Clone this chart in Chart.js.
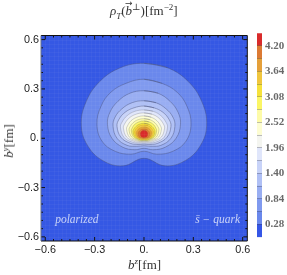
<!DOCTYPE html>
<html><head><meta charset="utf-8">
<style>html,body{margin:0;padding:0;background:#fff}
#main{position:absolute;left:0;top:0}#bar{position:absolute;left:250px;top:0}
canvas{filter:blur(.35px)}
.t{position:absolute;font:13px/16px "Liberation Serif","DejaVu Serif";color:#333;white-space:nowrap;filter:blur(.25px)}
.t sup,.t sub{font-size:9px;line-height:0}
.arrow{position:relative;display:inline-block}
.arrow u{position:absolute;left:-.5px;top:-6px;text-decoration:none;font:9px/12px "DejaVu Sans"}
</style>
<script src="https://cdn.jsdelivr.net/npm/chart.js@4"></script></head>
<body><canvas id="main" width="287" height="275"></canvas><canvas id="bar" width="37" height="275"></canvas>
<div class="t" style="left:110px;top:3px"><i>ρ</i><sub><i>T</i></sub>(<span class="arrow"><i>b</i><u>→</u></span><sup>⊥</sup>)[fm<sup>−2</sup>]</div>
<div class="t" style="left:128px;top:257px"><i>b</i><sup><i>z</i></sup>[fm]</div>
<div class="t" style="left:9px;top:141px;transform:translate(-50%,-50%) rotate(-90deg)"><i>b</i><sup><i>y</i></sup>[fm]</div>
<script>
const levels=[0,0.28,0.56,0.84,1.12,1.40,1.68,1.96,2.24,2.52,2.80,3.08,3.36,3.64,3.92,4.20,4.48];
const bandColors=['#3556e6','#6a88ec','#809aef','#99aef2','#b0c0f5','#c8d3f8','#e0e6fb','#f4f5f0','#fdfdd2','#fdfba8','#fbf665','#f6e23c','#f0c63e','#e5a03a','#dc7a34','#d92b2b'];
const colorbarTicks=[0.28,0.84,1.40,1.96,2.52,3.08,3.64,4.20];
const axisTicks=[-0.6,-0.3,0,0.3,0.6];
const tickNames=['\u22120.6','\u22120.3','0.','0.3','0.6'];
// right half of each iso-density contour, [b^z, b^y] in fm, top of curve to centre notch
const c028=[[0,.456],[.143,.429],[.269,.345],[.353,.219],[.381,.079],[.343,-.044],[.252,-.135],[.128,-.168],[0,-.122]];
const c056=[[0,.359],[.109,.334],[.201,.280],[.261,.195],[.286,.085],[.255,-.018],[.176,-.079],[.079,-.097],[0,-.079]];
const c084=[[0,.289],[.085,.274],[.158,.225],[.207,.158],[.222,.085],[.195,0],[.128,-.055],[.055,-.070],[0,-.061]];
const c112=[[0,.228],[.073,.216],[.134,.179],[.176,.128],[.188,.073],[.164,0],[.103,-.043],[.043,-.049],[0,-.046]];
const c140=[[0,.196],[.061,.185],[.115,.158],[.152,.115],[.164,.073],[.140,.006],[.085,-.030],[.036,-.038],[0,-.036]];
const c168=[[0,.172],[.055,.164],[.103,.137],[.134,.097],[.143,.067],[.122,.006],[.073,-.023],[.030,-.030],[0,-.029]];
const c196=[[0,.154],[.049,.146],[.091,.122],[.119,.085],[.125,.061],[.106,.008],[.061,-.018],[.026,-.025],[0,-.024]];
const c224=[[0,.136],[.043,.128],[.079,.106],[.100,.076],[.106,.055],[.089,.007],[.049,-.015],[.020,-.020],[0,-.019]];
const c252=[[0,.119],[.036,.113],[.067,.094],[.085,.070],[.091,.050],[.076,.008],[.040,-.012],[.017,-.017],[0,-.016]];
const c280=[[0,.105],[.032,.099],[.058,.083],[.072,.062],[.077,.045],[.064,.009],[.034,-.009],[.014,-.014],[0,-.013]];
const c308=[[0,.091],[.027,.086],[.049,.072],[.062,.055],[.067,.040],[.055,.009],[.029,-.007],[.012,-.011],[0,-.010]];
const c336=[[0,.081],[.023,.077],[.042,.065],[.053,.050],[.057,.036],[.047,.009],[.025,-.004],[.010,-.008],[0,-.007]];
const c364=[[0,.069],[.019,.065],[.035,.055],[.044,.043],[.047,.031],[.039,.009],[.020,-.002],[0,-.004]];
const c392=[[0,.057],[.015,.054],[.027,.046],[.034,.036],[.036,.027],[.034,.015],[.026,.005],[.015,.001],[0,-.001]];
const c420=[[0,.048],[.012,.045],[.020,.036],[.023,.026],[.020,.014],[.012,.007],[0,.004]];
const contours=[c028,c056,c084,c112,c140,c168,c196,c224,c252,c280,c308,c336,c364,c392,c420];

function closed(h){
  const pts=h.map(p=>({x:p[0],y:p[1]}));
  for(let i=h.length-2;i>=0;i--)pts.push({x:-h[i][0],y:h[i][1]});
  pts.push({x:h[1][0],y:h[1][1]});
  return pts;
}
// Chart.js paints dataset 0 last, so the innermost contour comes first
const datasets=contours.map((h,i)=>({data:closed(h),showLine:true,fill:'shape',tension:.4,pointRadius:0,
  backgroundColor:bandColors[i+1],borderColor:i<5?'rgba(70,80,125,.5)':(i<11?'rgba(80,80,90,.35)':'rgba(130,90,30,.22)'),borderWidth:i<5?.9:.7})).reverse();

const decor={id:'decor',
 beforeDatasetsDraw(c){const a=c.chartArea,g=c.ctx;g.save();g.fillStyle='#3558e4';g.fillRect(a.left,a.top,a.width,a.height);g.restore();},
 afterDatasetsDraw(c){
  const a=c.chartArea,g=c.ctx,X=c.scales.x,Y=c.scales.y;g.save();
  g.strokeStyle='rgba(255,255,255,.035)';g.lineWidth=1;g.beginPath();
  for(let v=-24;v<=24;v++){const px=Math.round(X.getPixelForValue(v*.025))+.5,py=Math.round(Y.getPixelForValue(v*.025))+.5;
    g.moveTo(px,a.top);g.lineTo(px,a.bottom);g.moveTo(a.left,py);g.lineTo(a.right,py);}
  g.stroke();
  g.strokeStyle='#111';g.lineWidth=1;g.beginPath();
  for(let v=-12;v<=12;v++){const val=v*.05,l=v%6===0?4:2;
    const px=X.getPixelForValue(val),py=Y.getPixelForValue(val);
    g.moveTo(px,a.bottom);g.lineTo(px,a.bottom-l);g.moveTo(px,a.top);g.lineTo(px,a.top+l);
    g.moveTo(a.left,py);g.lineTo(a.left+l,py);g.moveTo(a.right,py);g.lineTo(a.right-l,py);}
  g.stroke();
  g.beginPath();g.moveTo(a.left,a.top);g.lineTo(a.right,a.top);g.lineTo(a.right,a.bottom);g.lineTo(a.left,a.bottom);g.stroke();
  g.strokeStyle='#66708a';g.beginPath();g.moveTo(a.left,a.top);g.lineTo(a.left,a.bottom);g.stroke();
  g.fillStyle='rgba(255,255,255,.72)';g.font='italic 11.5px "Liberation Serif"';g.textBaseline='middle';
  g.textAlign='left';g.fillText('polarized',X.getPixelForValue(-.54),Y.getPixelForValue(-.497));
  g.textAlign='right';g.fillText('s\u0304 \u2212 quark',X.getPixelForValue(.584),Y.getPixelForValue(-.497));
  g.restore();
 }};
const tickFont={family:'"Liberation Sans"',size:10.8};
function labelled(s){s.ticks=axisTicks.map(v=>({value:v}));}
new Chart(document.getElementById('main'),{type:'scatter',data:{datasets},plugins:[decor],
 options:{responsive:false,animation:false,devicePixelRatio:1,
  layout:{padding:{left:0,right:39.7,top:35.5,bottom:0}},
  plugins:{legend:{display:false},tooltip:{enabled:false}},
  scales:{
   x:{type:'linear',min:-.626,max:.628,afterBuildTicks:labelled,afterFit(s){s.height=34},
    grid:{display:false,drawTicks:false},border:{display:false},
    ticks:{autoSkip:false,maxRotation:0,padding:3,color:'#222',font:tickFont,callback:v=>tickNames[axisTicks.indexOf(v)]}},
   y:{type:'linear',min:-.625,max:.625,afterBuildTicks:labelled,afterFit(s){s.width=41},
    grid:{display:false,drawTicks:false},border:{display:false},
    ticks:{autoSkip:false,padding:2,color:'#222',font:tickFont,callback:v=>tickNames[axisTicks.indexOf(v)]}}
  }}});
new Chart(document.getElementById('bar'),{type:'bar',
 data:{labels:['density'],datasets:bandColors.map((col,i)=>({data:[[levels[i],levels[i+1]]],backgroundColor:col,borderWidth:0,grouped:false,barPercentage:1,categoryPercentage:1}))},
 options:{responsive:false,animation:false,devicePixelRatio:1,
  layout:{padding:{left:7,right:0,top:33.2,bottom:37.8}},
  plugins:{legend:{display:false},tooltip:{enabled:false}},
  scales:{x:{display:false},
   y:{position:'right',min:0,max:4.48,afterBuildTicks(s){s.ticks=levels.slice(1,-1).map(v=>({value:v}));},afterFit(s){s.width=25},
    border:{display:false},grid:{z:1,color:'rgba(50,50,60,.3)',drawTicks:false,lineWidth:1},
    ticks:{autoSkip:false,padding:3,color:'#6a6a6a',font:{family:'"Liberation Serif"',size:11,weight:'bold'},
     callback:v=>colorbarTicks.includes(v)?v.toFixed(2):''}}}}});
</script></body></html>
